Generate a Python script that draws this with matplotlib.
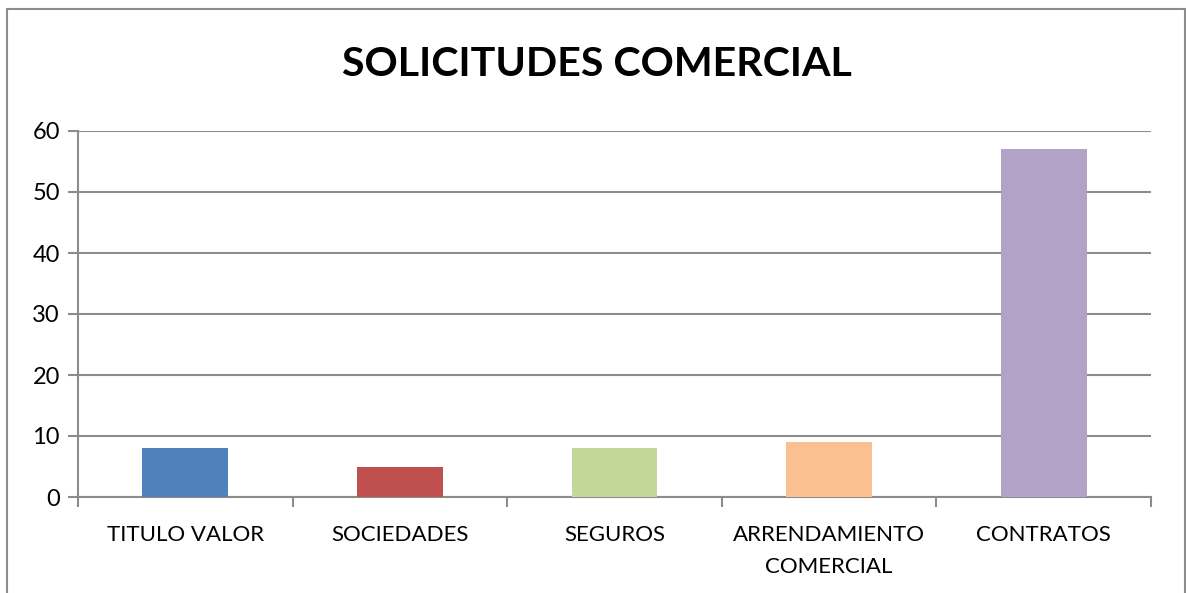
import matplotlib
matplotlib.use("Agg")
import matplotlib.pyplot as plt
from matplotlib.patches import Rectangle
from matplotlib.ticker import FixedLocator

categories = ["TITULO VALOR", "SOCIEDADES", "SEGUROS", "ARRENDAMIENTO\nCOMERCIAL", "CONTRATOS"]
values = [8, 5, 8, 9, 57]
colors = ["#4F81BD", "#C0504D", "#C4D79B", "#FAC090", "#B3A2C7"]
y_ticks = [0, 10, 20, 30, 40, 50, 60]


def main() -> None:
    plt.rcParams["font.family"] = ["Lato", "DejaVu Sans"]
    fig = plt.figure(figsize=(11.86, 5.93), dpi=100)
    ax = fig.add_axes([78 / 1186, 96 / 593, 1073 / 1186, 366 / 593])

    x = list(range(len(categories)))
    ax.bar(x, values, width=0.4, color=colors, zorder=3)

    ax.set_xlim(-0.5, len(categories) - 0.5)
    ax.set_ylim(0, 60)
    ax.set_yticks(y_ticks)
    ax.tick_params(axis="y", labelsize=17, length=7, width=1.5, color="#8c8c8c", pad=6)
    ax.grid(axis="y", color="#8c8c8c", linewidth=1.5, zorder=0)

    ax.set_xticks(x)
    ax.set_xticklabels(categories, fontsize=16, linespacing=1.75)
    ax.tick_params(axis="x", which="major", length=0, pad=20)
    ax.xaxis.set_minor_locator(FixedLocator([i - 0.5 for i in range(len(categories) + 1)]))
    ax.tick_params(axis="x", which="minor", length=7, width=1.5, color="#8c8c8c", direction="out")

    for side in ["top", "right"]:
        ax.spines[side].set_visible(False)
    for side in ["left", "bottom"]:
        ax.spines[side].set_color("#8c8c8c")
        ax.spines[side].set_linewidth(1.5)

    fig.text(597 / 1186, 1 - 65 / 593, "SOLICITUDES COMERCIAL", ha="center", va="center",
             fontsize=29.6, fontweight="bold")

    frame = Rectangle((7 / 1186, -0.1), 1178 / 1186, 1.1 - 9 / 593, transform=fig.transFigure,
                      fill=False, edgecolor="#8c8c8c", linewidth=1.5)
    fig.patches.append(frame)

    fig.savefig("out.png", dpi=100)


if __name__ == "__main__":
    main()
